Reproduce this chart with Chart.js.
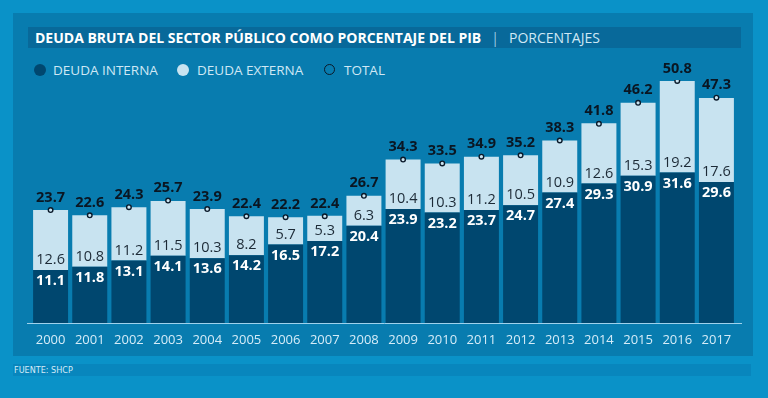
<!DOCTYPE html>
<html>
<head>
<meta charset="utf-8">
<script src="https://cdn.jsdelivr.net/npm/chart.js@4"></script>
<style>
  html, body { margin: 0; padding: 0; }
  body { width: 768px; height: 398px; background: #0a92c8; position: relative; overflow: hidden; font-family: "Open Sans", sans-serif; }
  .panel { position: absolute; left: 13px; top: 13px; width: 740px; height: 343px; background: #087caf; }
  .titlebar { position: absolute; left: 28px; top: 27px; width: 713px; height: 21px; background: #08699a; }
  .title { position: absolute; left: 35px; top: 27px; height: 21px; line-height: 21px; font-size: 14px; color: #fff; white-space: nowrap; }
  .title b { font-weight: 700; }
  .title .sep { color: #9ccbe4; margin: 0 10px; }
  .title .sub { color: #cfe8f5; font-weight: 400; }
  .legend { position: absolute; top: 62px; left: 0; height: 16px; font-size: 13.5px; color: #cfe8f5; }
  .item { position: absolute; top: 0; white-space: nowrap; line-height: 16px; }
  .dot { position: absolute; width: 12px; height: 12px; border-radius: 50%; top: 2px; }
  .footer { position: absolute; left: 13px; top: 364px; width: 738px; height: 12px; background: #0886bd; }
  .ftext { position: absolute; left: 14px; top: 364px; line-height: 12px; font-size: 9px; color: #d5ecf8; font-family: "Liberation Sans Narrow", "DejaVu Sans Condensed", sans-serif; }
  canvas { position: absolute; left: 0; top: 0; }
</style>
</head>
<body>
<div class="panel"></div>
<div class="titlebar"></div>
<div class="title"><b>DEUDA BRUTA DEL SECTOR PÚBLICO COMO PORCENTAJE DEL PIB</b><span class="sep">|</span><span class="sub">PORCENTAJES</span></div>
<div class="legend">
  <span class="dot" style="left:34px;background:#00476f;"></span><span class="item" style="left:53px;">DEUDA INTERNA</span>
  <span class="dot" style="left:177px;background:#c8e3f0;"></span><span class="item" style="left:197px;">DEUDA EXTERNA</span>
  <span class="dot" style="left:324px;width:9px;height:9px;border:1.5px solid #0b1a2a;"></span><span class="item" style="left:344px;">TOTAL</span>
</div>
<div class="footer"></div>
<div class="ftext">FUENTE: SHCP</div>
<canvas id="chart" width="768" height="398"></canvas>
<script>
// values
const years = ["2000", "2001", "2002", "2003", "2004", "2005", "2006", "2007", "2008",
  "2009", "2010", "2011", "2012", "2013", "2014", "2015", "2016", "2017"];
const interna = [11.1, 11.8, 13.1, 14.1, 13.6, 14.2, 16.5, 17.2, 20.4, 23.9, 23.2, 23.7, 24.7, 27.4, 29.3, 30.9, 31.6, 29.6];
const externa = [12.6, 10.8, 11.2, 11.5, 10.3, 8.2, 5.7, 5.3, 6.3, 10.4, 10.3, 11.2, 10.5, 10.9, 12.6, 15.3, 19.2, 17.6];
const total = [23.7, 22.6, 24.3, 25.7, 23.9, 22.4, 22.2, 22.4, 26.7, 34.3, 33.5, 34.9, 35.2, 38.3, 41.8, 46.2, 50.8, 47.3];

const DARK = "#00476f";
const LIGHT = "#c8e3f0";

/* baseline drawn a bit wider than the plot, like the original */
const baseline = {
  id: "baseline",
  beforeDatasetsDraw(chart) {
    const { ctx, chartArea } = chart;
    ctx.save();
    ctx.strokeStyle = "#9fd2ec";
    ctx.lineWidth = 1;
    ctx.beginPath();
    ctx.moveTo(chartArea.left - 4, chartArea.bottom + 0.5);
    ctx.lineTo(chartArea.right + 6, chartArea.bottom + 0.5);
    ctx.stroke();
    ctx.restore();
  }
};

/* value labels */
const valueLabels = {
  id: "valueLabels",
  afterDatasetsDraw(chart) {
    const ctx = chart.ctx;
    const inMeta = chart.getDatasetMeta(0);
    const totMeta = chart.getDatasetMeta(2);
    ctx.save();
    ctx.textAlign = "center";
    ctx.textBaseline = "middle";
    inMeta.data.forEach((bar, i) => {
      ctx.font = "700 14.5px 'Open Sans', sans-serif";
      ctx.fillStyle = "#ffffff";
      ctx.fillText(interna[i].toFixed(1), bar.x, bar.y + 11);

      ctx.font = "400 14.5px 'Open Sans', sans-serif";
      ctx.fillStyle = "#1c2a36";
      ctx.fillText(externa[i].toFixed(1), bar.x, bar.y - 10);

      const pt = totMeta.data[i];
      ctx.font = "700 14.5px 'Open Sans', sans-serif";
      ctx.fillStyle = "#0a1622";
      ctx.fillText(total[i].toFixed(1), pt.x, pt.y - 12.5);
    });
    ctx.restore();
  }
};

new Chart(document.getElementById("chart"), {
  data: {
    labels: years,
    datasets: [
      {
        type: "bar",
        label: "DEUDA INTERNA",
        data: interna,
        backgroundColor: DARK,
        stack: "deuda",
        order: 2
      },
      {
        type: "bar",
        label: "DEUDA EXTERNA",
        data: externa,
        backgroundColor: LIGHT,
        stack: "deuda",
        order: 2
      },
      {
        type: "line",
        label: "TOTAL",
        data: total,
        showLine: false,
        pointRadius: 2.3,
        pointBackgroundColor: LIGHT,
        pointBorderColor: "#0b1a2a",
        pointBorderWidth: 1.4,
        order: 1
      }
    ]
  },
  options: {
    responsive: false,
    animation: false,
    layout: { padding: { left: 31, right: 32, top: 80, bottom: 53 } },
    datasets: { bar: { barPercentage: 1, categoryPercentage: 0.893 } },
    plugins: {
      legend: { display: false },
      tooltip: { enabled: false }
    },
    scales: {
      x: {
        stacked: true,
        grid: { display: false },
        border: { display: false },
        ticks: {
          color: "#d5ecf8",
          font: { family: "Open Sans", size: 13 },
          padding: 1,
          maxRotation: 0
        },
        afterFit(scale) { scale.height = 22; }
      },
      y: {
        stacked: true,
        display: false,
        min: 0,
        max: 51
      }
    }
  },
  plugins: [baseline, valueLabels]
});
</script>
</body>
</html>
